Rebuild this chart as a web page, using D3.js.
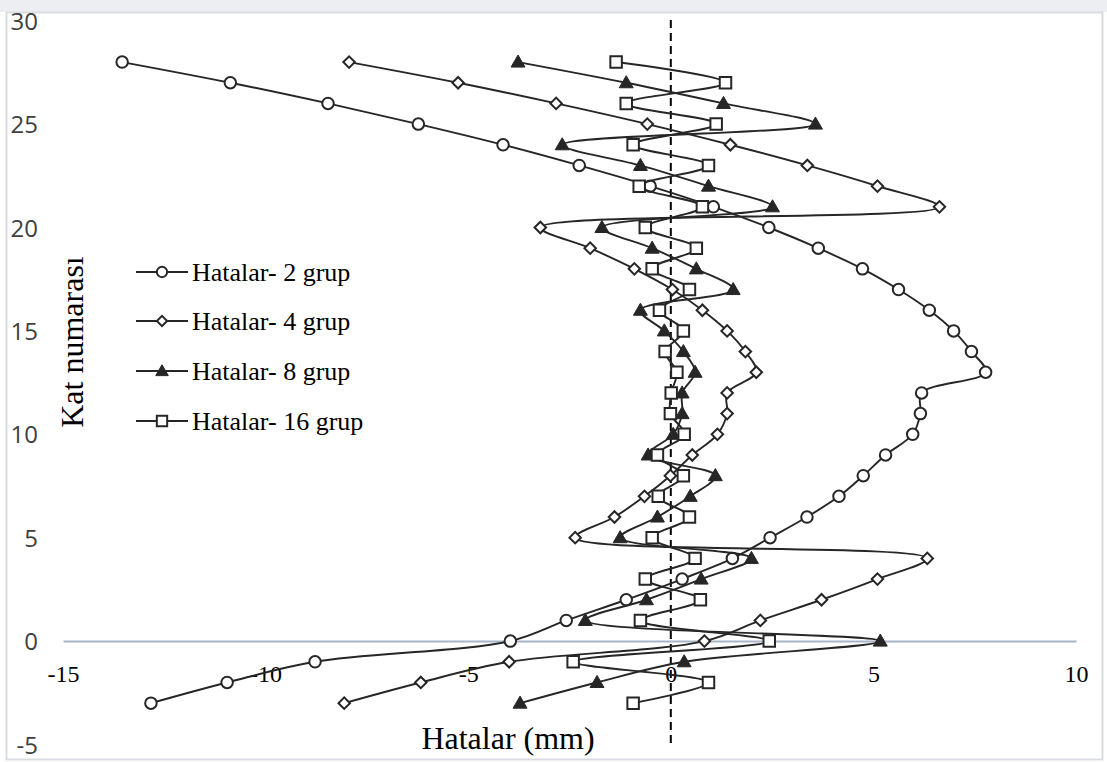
<!DOCTYPE html>
<html>
<head>
<meta charset="utf-8">
<script src="https://cdn.jsdelivr.net/npm/d3@7"></script>
<style>
  html, body { margin: 0; padding: 0; background: #ffffff; }
  svg { display: block; }
</style>
</head>
<body>
<svg id="chart" width="1107" height="762"></svg>
<script>
// ---- data (floor number = y, error in mm = x) ----
const floors = [-3,-2,-1,0,1,2,3,4,5,6,7,8,9,10,11,12,13,14,15,16,17,18,19,20,21,22,23,24,25,26,27,28];

const hatalar2 = [-12.83,-10.95,-8.78,-3.96,-2.58,-1.10,0.28,1.52,2.45,3.36,4.15,4.75,5.30,5.97,6.16,6.19,
                  7.77,7.42,6.98,6.38,5.62,4.73,3.64,2.42,1.05,-0.51,-2.26,-4.14,-6.23,-8.46,-10.87,-13.54];
const hatalar4 = [-8.06,-6.17,-3.99,0.83,2.21,3.72,5.10,6.33,-2.36,-1.39,-0.65,-0.01,0.53,1.15,1.39,1.39,
                  2.11,1.84,1.39,0.78,0.04,-0.90,-1.99,-3.22,6.63,5.10,3.37,1.47,-0.58,-2.83,-5.25,-7.94];
const hatalar8 = [-3.72,-1.82,0.33,5.17,-2.11,-0.60,0.75,1.99,-1.25,-0.33,0.48,1.10,-0.56,0.06,0.28,0.28,
                  0.60,0.31,-0.16,-0.75,1.54,0.63,-0.46,-1.70,2.51,0.93,-0.75,-2.68,3.57,1.30,-1.10,-3.77];
const hatalar16 = [-0.93,0.93,-2.41,2.43,-0.75,0.73,-0.63,0.60,-0.46,0.46,-0.31,0.31,-0.33,0.33,-0.01,0.01,
                   0.15,-0.14,0.31,-0.28,0.46,-0.46,0.63,-0.63,0.78,-0.78,0.93,-0.93,1.12,-1.10,1.35,-1.35];

const seriesNames = ["Hatalar- 2 grup","Hatalar- 4 grup","Hatalar- 8 grup","Hatalar- 16 grup"];
const seriesValues = [hatalar2, hatalar4, hatalar8, hatalar16];
const markerKinds = ["circle","diamond","triangle","square"];

const xTicks = [-15,-10,-5,0,5,10];
const yTicks = [-5,0,5,10,15,20,25,30];
const xTitle = "Hatalar (mm)";
const yTitle = "Kat numarası";

// ---- drawing ----
const svg = d3.select("#chart");
const ink = "#262626";
const fmt = d => String(d);   // plain hyphen-minus as in the original

// outer frame
svg.append("rect").attr("x",0).attr("y",0).attr("width",1107).attr("height",12).attr("fill","#eceef1");
svg.append("rect").attr("x",6.5).attr("y",12.5).attr("width",1096).attr("height",747)
   .attr("fill","#ffffff").attr("stroke","#d9dde2").attr("stroke-width",2);

const x = d3.scaleLinear().domain([-15,10]).range([63,1076]);
const y = d3.scaleLinear().domain([-5,30]).range([744.5,20.7]);

// y axis labels
const gy = svg.append("g").attr("transform","translate(38,0)")
  .call(d3.axisLeft(y).tickValues(yTicks).tickSize(0).tickPadding(0).tickFormat(fmt));
gy.select(".domain").remove();
gy.selectAll("text").attr("font-family","'Open Sans', sans-serif").attr("font-size",24)
  .attr("fill","#404040").attr("dy","0.36em");

// x axis (line at y=0, labels below)
const gx = svg.append("g").attr("transform",`translate(0,${y(0)})`)
  .call(d3.axisBottom(x).tickValues(xTicks).tickSize(0).tickSizeOuter(0).tickPadding(0).tickFormat(fmt));
gx.select(".domain").attr("stroke","#a7b5c8").attr("stroke-width",2);
gx.selectAll("text").attr("font-family","'Liberation Serif','Times New Roman',serif").attr("font-size",24)
  .attr("fill","#000").attr("y",41).attr("dy",0);

// dashed zero line
svg.append("line").attr("x1",x(0)).attr("x2",x(0)).attr("y1",20).attr("y2",748)
  .attr("stroke","#000").attr("stroke-width",2).attr("stroke-dasharray","8,5");

// axis titles
svg.append("text").attr("x",508).attr("y",749).attr("text-anchor","middle")
  .attr("font-family","'Liberation Serif','Times New Roman',serif").attr("font-size",32)
  .attr("fill","#000").text(xTitle);
svg.append("text").attr("transform","translate(83,342) rotate(-90)").attr("text-anchor","middle")
  .attr("font-family","'Liberation Serif','Times New Roman',serif").attr("font-size",32)
  .attr("fill","#000").text(yTitle);

// markers
function markerPath(kind, scale) {
  const s = scale || 1;
  if (kind === "circle") return d3.symbol(d3.symbolCircle, 104*s*s)();
  if (kind === "diamond") return d3.symbol(d3.symbolSquare, 66*s*s)();
  if (kind === "triangle") return d3.symbol(d3.symbolTriangle, 84*s*s)();
  return d3.symbol(d3.symbolSquare, 132*s*s)();
}
function drawMarker(g, kind, px, py, scale) {
  g.append("path").attr("d", markerPath(kind, scale))
    .attr("transform", `translate(${px},${py})` + (kind === "diamond" ? " rotate(45)" : "") + (kind === "triangle" ? " translate(0,1)" : ""))
    .attr("fill", kind === "triangle" ? ink : "#ffffff")
    .attr("stroke", ink).attr("stroke-width", kind === "triangle" ? 1 : 2);
}

const line = d3.line().x(d => x(d[0])).y(d => y(d[1])).curve(d3.curveCatmullRom.alpha(0.5));

seriesValues.forEach((vals, i) => {
  const pts = vals.map((v, k) => [v, floors[k]]);
  const g = svg.append("g");
  g.append("path").attr("d", line(pts)).attr("fill","none").attr("stroke",ink).attr("stroke-width",1.9);
  pts.forEach(p => drawMarker(g, markerKinds[i], x(p[0]), y(p[1])));
});

// legend
const legendY = [272, 321, 371, 421];
seriesNames.forEach((name, i) => {
  const g = svg.append("g");
  g.append("line").attr("x1",136).attr("x2",188).attr("y1",legendY[i]).attr("y2",legendY[i])
    .attr("stroke",ink).attr("stroke-width",1.9);
  drawMarker(g, markerKinds[i], 162, legendY[i], 0.9);
  g.append("text").attr("x",192).attr("y",legendY[i]).attr("dy","0.33em")
    .attr("font-family","'Liberation Serif','Times New Roman',serif").attr("font-size",26)
    .attr("fill","#000").text(name);
});
</script>
</body>
</html>
